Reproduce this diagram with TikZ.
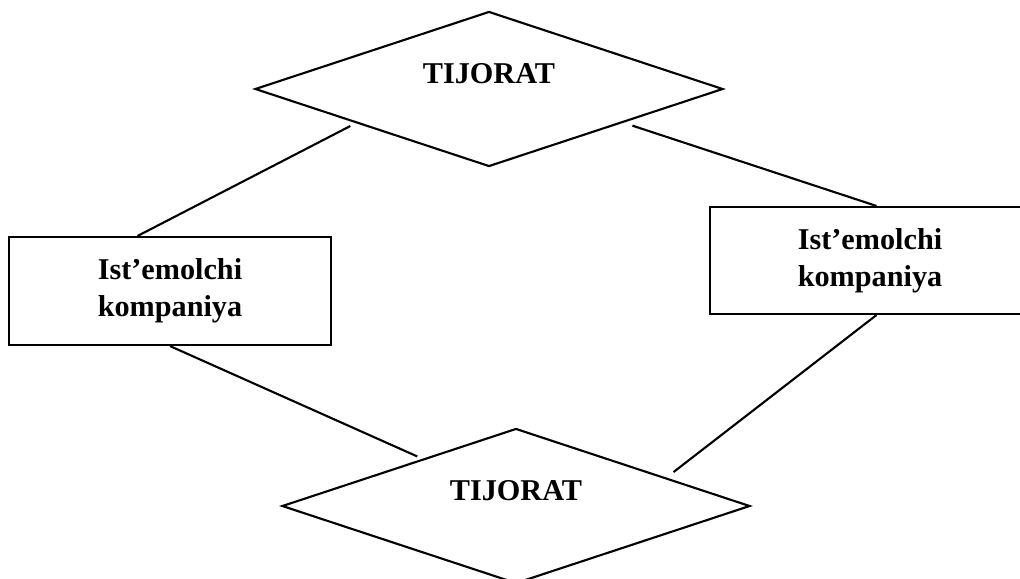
\documentclass[tikz,border=0pt]{standalone}
\usepackage{fontspec}
\setmainfont{Liberation Serif}
\usetikzlibrary{shapes.geometric, positioning, calc}

\begin{document}
\begin{tikzpicture}[
    x=1cm, y=1cm,
    line width=1.5pt,
    dia/.style={diamond, draw, minimum width=11.7cm, minimum height=3.875cm, inner sep=0pt},
    box/.style={rectangle, draw, minimum height=2.7cm, align=center, inner sep=0pt,
        font=\fontsize{21.5}{26.3}\selectfont\bfseries},
    lbl/.style={font=\fontsize{21.5}{26.3}\selectfont\bfseries, inner sep=0pt}
]
\useasboundingbox (0,0) rectangle (25.5,-14.45);
\clip (0,0) rectangle (25.5,-14.45);
% diamonds
\node[dia] (tijA) at (12.225,-2.225) {};
\node[lbl] (tijAtxt) at ([yshift=0.375cm]tijA.center) {TIJORAT};
\node[dia] (tijB) at (12.9,-12.65) {};
\node[lbl] (tijBtxt) at ([yshift=0.375cm]tijB.center) {TIJORAT};
% companies
\node[box, minimum width=8.05cm] (compL) at (4.25,-7.275) {Ist’emolchi\\kompaniya};
\node[box, minimum width=8cm, minimum height=2.675cm] (compR) at (21.75,-6.5125) {Ist’emolchi\\kompaniya};
% connectors
\coordinate (a1) at ($(tijA.west)!0.41!(tijA.south)+(0,-0.12)$);
\coordinate (a2) at ($(tijA.east)!0.39!(tijA.south)+(0,-0.15)$);
\coordinate (b1) at ($(tijB.west)!0.58!(tijB.north)+(0,0.1)$);
\coordinate (b2) at ($(tijB.east)!0.33!(tijB.north)+(0,0.2)$);
\draw (a1) -- ($(compL.north west)!0.4!(compL.north east)$);
\draw (a2) -- ($(compR.north west)!0.52!(compR.north east)$);
\draw (compL.south) -- (b1);
\draw ($(compR.south west)!0.52!(compR.south east)$) -- (b2);
\end{tikzpicture}
\end{document}
